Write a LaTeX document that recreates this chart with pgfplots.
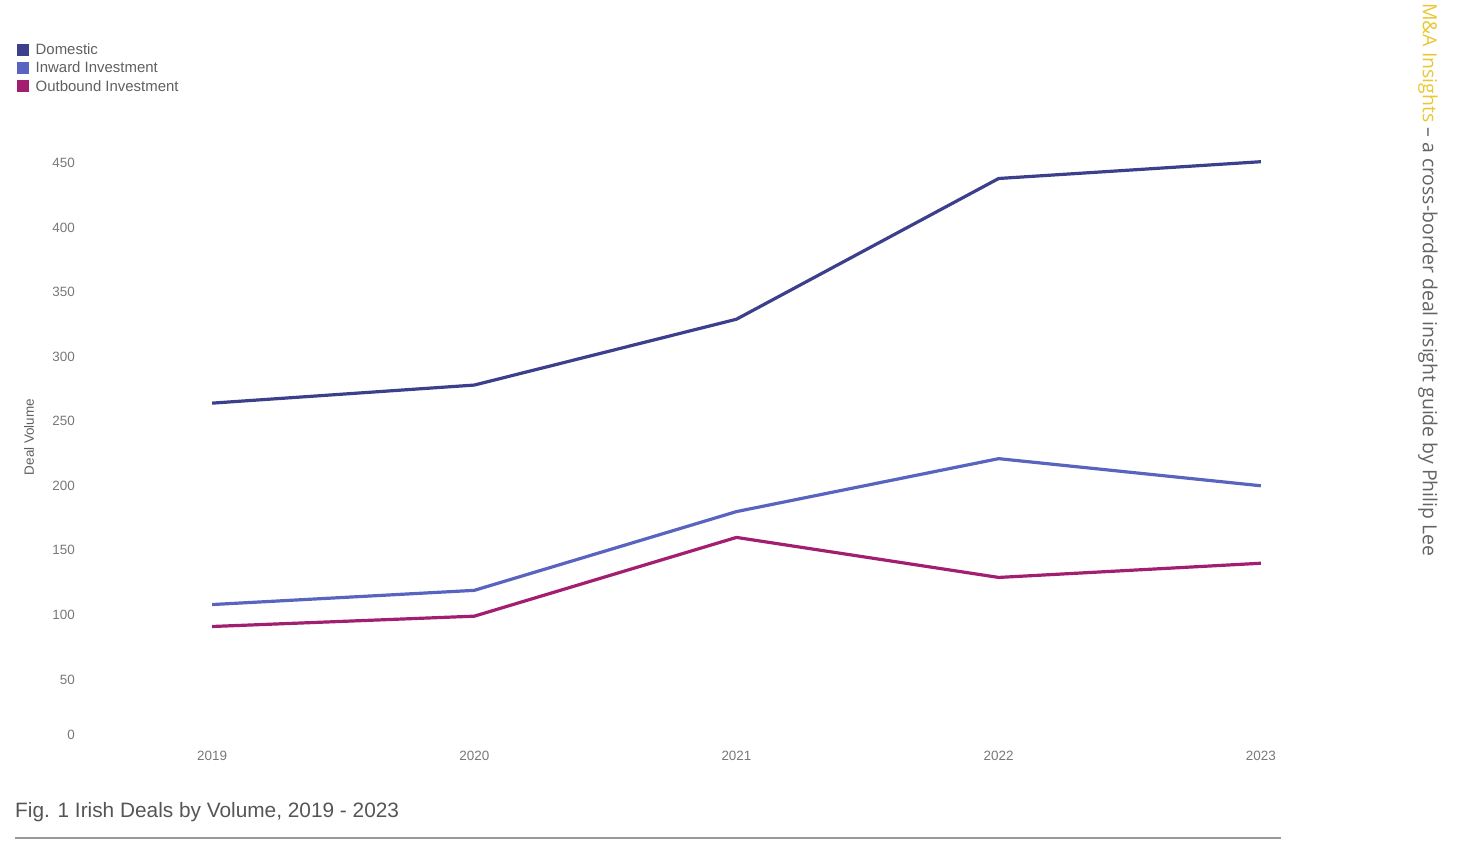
\documentclass[border=0pt]{standalone}
\usepackage{pgfplots}
\pgfplotsset{compat=1.18}
\usepackage{fontspec}
\setmainfont{Liberation Sans}
\newfontfamily\osans{Open Sans}
\definecolor{dom}{RGB}{59,63,140}
\definecolor{inw}{RGB}{88,100,192}
\definecolor{outb}{RGB}{162,30,112}
\definecolor{ticktxt}{RGB}{120,120,120}
\definecolor{legtxt}{RGB}{95,95,95}
\definecolor{captxt}{RGB}{85,85,85}
\definecolor{gold}{RGB}{232,200,50}
\definecolor{sidetxt}{RGB}{100,100,100}
\begin{document}
\begin{tikzpicture}
\path[use as bounding box] (0bp,0bp) rectangle (1458bp,862bp);
\begin{axis}[
  at={(81bp,118bp)}, anchor=south west,
  scale only axis, width=1311bp, height=581bp,
  xmin=-0.5, xmax=4.5, ymin=0, ymax=450,
  clip=false,
  axis line style={draw=none},
  major tick length=0pt,
  xtick={0,1,2,3,4},
  xticklabels={2019,2020,2021,2022,2023},
  ytick={50,100,150,200,250,300,350,400,450},
  extra y ticks={0},
  extra y tick style={yticklabel style={yshift=9bp}},
  /pgf/number format/assume math mode=true,
  tick label style={font=\fontsize{13.5}{16}\selectfont, text=ticktxt},
  yticklabel style={anchor=east, inner sep=0pt, xshift=-6bp},
  xticklabel style={anchor=north, inner sep=0pt, yshift=-7bp},
  ylabel={Deal Volume},
  every axis y label/.style={at={(-52bp,307bp)}, anchor=center, rotate=90, font=\fontsize{13.5}{16}\selectfont, text=legtxt},
  legend style={at={(-70bp,701bp)}, anchor=north west, draw=none, fill=none,
    font=\fontsize{15}{17}\selectfont, text=legtxt, inner sep=0pt, row sep=5pt,
    nodes={inner sep=0.5pt, anchor=west}},
  legend cell align=left,
  legend image code/.code={\draw[line width=12bp] (0bp,0bp) -- (12bp,0bp);},
  /tikz/every even column/.append style={column sep=2bp},
  every axis plot/.append style={line width=3.2bp, line join=round},
]
\addplot[color=dom] coordinates {(0,264) (1,278) (2,329) (3,438) (4,451)};
\addlegendentry{Domestic}
\addplot[color=inw] coordinates {(0,108) (1,119) (2,180) (3,221) (4,200)};
\addlegendentry{Inward Investment}
\addplot[color=outb] coordinates {(0,91) (1,99) (2,160) (3,129) (4,140)};
\addlegendentry{Outbound Investment}
\end{axis}
\node[anchor=base west, inner sep=0pt, font=\fontsize{20.9}{24}\selectfont, text=captxt] at (15bp,44bp) {Fig. 1 Irish Deals by Volume, 2019 - 2023};
\draw[line width=1.6bp, color=black!40] (15bp,24bp) -- (1281bp,24bp);
\node[rotate=-90, anchor=west, inner sep=0pt, font=\osans\fontsize{19.5}{22}\selectfont, text=sidetxt] at (1428bp,859bp) {\textcolor{gold}{M\&A Insights} – a cross-border deal insight guide by Philip Lee};
\end{tikzpicture}
\end{document}
